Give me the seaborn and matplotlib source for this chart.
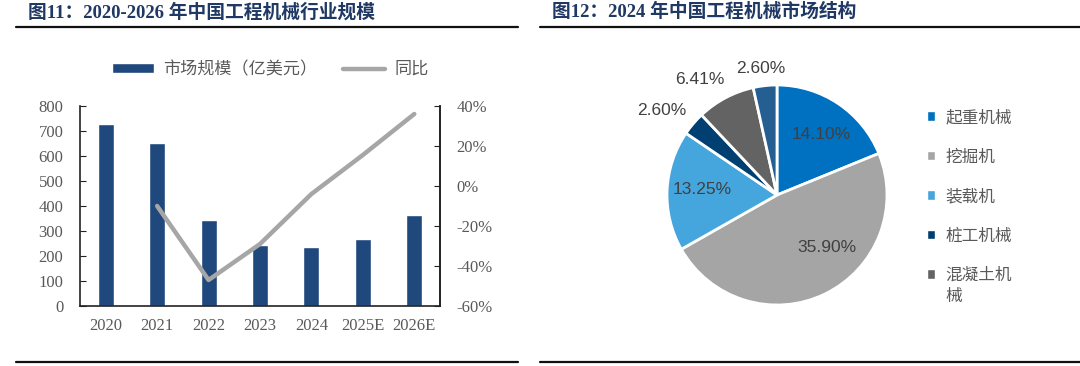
import numpy as np
import pandas as pd
import matplotlib
matplotlib.use("Agg")
import matplotlib.pyplot as plt
import seaborn as sns
from matplotlib.patches import Patch
from matplotlib.lines import Line2D

# data
years = ["2020", "2021", "2022", "2023", "2024", "2025E", "2026E"]
market_size = [727, 652, 345, 245, 235, 270, 365]   # 亿美元
yoy = [np.nan, -10.0, -47.0, -29.0, -4.0, 15.5, 36.0]  # %

pie_labels = ["起重机械", "挖掘机", "装载机", "桩工机械", "混凝土机械", ""]
pie_values = [14.10, 35.90, 13.25, 2.60, 6.41, 2.60]
pie_colors = ["#0070C0", "#A5A5A5", "#45A5DD", "#003F72", "#636363", "#255E91"]

sns.set_style("white")
plt.rcParams["font.family"] = ["Liberation Serif", "Noto Sans CJK SC"]
CJK = ["Noto Sans CJK SC", "DejaVu Sans"]
TITLE = ["Liberation Serif", "Noto Sans CJK SC"]
GREY = "#595959"
NAVY = "#1F3864"

fig = plt.figure(figsize=(10.8, 3.66), dpi=100)

# panel titles and rules
fig.text(28 / 1080, 1 - 12 / 366, "图11：2020-2026 年中国工程机械行业规模", family=TITLE,
         fontsize=13.5, fontweight="bold", color=NAVY, va="center", ha="left")
fig.text(552 / 1080, 1 - 12 / 366, "图12：2024 年中国工程机械市场结构", family=TITLE,
         fontsize=13.5, fontweight="bold", color=NAVY, va="center", ha="left")
for x0, x1 in [(16, 518), (540, 1080)]:
    for yy in (27, 362):
        fig.add_artist(Line2D([x0 / 1080, x1 / 1080], [1 - yy / 366] * 2,
                              color="#111111", lw=1.6))

# ---- bar + line chart
df = pd.DataFrame({"year": years, "size": market_size, "yoy": yoy})
ax = fig.add_axes([80 / 1080, 60 / 366, 360 / 1080, 200 / 366])
sns.barplot(data=df, x="year", y="size", color="#1F497D", width=0.31,
            saturation=1, ax=ax)
ax.set_ylim(0, 800)
ax.set_xlim(-0.5, len(years) - 0.5)
ax.set_yticks(range(0, 801, 100))
ax.set_xlabel("")
ax.set_ylabel("")
ax.tick_params(axis="y", direction="in", length=4, color="#222222", labelsize=12,
               labelcolor=GREY, pad=12)
ax.set_xticks(np.arange(-0.5, len(years)), minor=True)
ax.tick_params(axis="x", which="major", length=0, labelsize=12, labelcolor=GREY, pad=9)
ax.tick_params(axis="x", which="minor", direction="in", length=4, color="#222222")
ax.spines["top"].set_visible(False)
for s in ["left", "bottom", "right"]:
    ax.spines[s].set_color("#222222")
    ax.spines[s].set_linewidth(1.2)

ax2 = ax.twinx()
line_df = df.dropna(subset=["yoy"]).copy()
line_df["pos"] = [years.index(y) for y in line_df["year"]]
sns.lineplot(data=line_df, x="pos", y="yoy", color="#A6A6A6", lw=3.2, ax=ax2)
ax2.set_ylim(-60, 40)
ax2.set_yticks(range(-60, 41, 20))
ax2.set_yticklabels([f"{v}%" for v in range(-60, 41, 20)])
ax2.set_xlim(-0.5, len(years) - 0.5)
ax2.set_ylabel("")
ax2.set_xlabel("")
ax2.tick_params(axis="y", direction="in", length=4, color="#222222", labelsize=12,
                labelcolor=GREY, pad=12)
for s in ["top", "left", "bottom"]:
    ax2.spines[s].set_visible(False)
ax2.spines["right"].set_color("#222222")
ax2.spines["right"].set_linewidth(1.2)

handles = [Patch(facecolor="#1F497D"), Line2D([], [], color="#A6A6A6", lw=3.2)]
fig.legend(handles, ["市场规模（亿美元）", "同比"], loc="center",
           bbox_to_anchor=(270 / 1080, 1 - 69 / 366), ncol=2, frameon=False,
           prop={"family": CJK, "size": 12.3}, labelcolor=GREY,
           handlelength=2.5, handleheight=0.5, columnspacing=1.5, handletextpad=0.5)

# ---- pie chart
cx, cy, r = 777, 195, 110
pax = fig.add_axes([(cx - r) / 1080, (366 - cy - r) / 366, 2 * r / 1080, 2 * r / 366])
wedges, _ = pax.pie(pie_values, colors=pie_colors, startangle=90, counterclock=False,
                    wedgeprops={"edgecolor": "white", "linewidth": 2})
pax.set_xlim(-1, 1)
pax.set_ylim(-1, 1)
pax.set_aspect("equal")
# label radial distance and small angular shift per slice (Excel "best fit")
label_dist = [0.68, 0.66, 0.68, 1.3, 1.26, 1.16]
label_shift = [-2, 18, -2, 4, 6, 1]
for w, v, d, sh in zip(wedges, pie_values, label_dist, label_shift):
    ang = np.deg2rad((w.theta1 + w.theta2) / 2 + sh)
    pax.text(d * np.cos(ang), d * np.sin(ang), f"{v:.2f}%", ha="center", va="center",
             family=["Liberation Sans"], fontsize=12.5, color="#404040")

# legend: the long last label wraps onto a second line, marker stays on the first
shown = pie_labels[:5]
legend_text = [s if len(s) <= 4 else s[:4] for s in shown]
lh = [Patch(facecolor=c) for c in pie_colors[:5]]
leg = fig.legend(lh, legend_text, loc="upper left",
                 bbox_to_anchor=(912 / 1080, 1 - 94 / 366),
                 frameon=False, prop={"family": CJK, "size": 12}, labelcolor=GREY,
                 handlelength=0.5, handleheight=0.5, handletextpad=0.6, labelspacing=1.35)
fig.canvas.draw()
last = leg.get_texts()[-1]
bb = last.get_window_extent()
fig.text(bb.x0 / 1080, (bb.y0 - 21) / 366, shown[-1][4:], family=CJK, fontsize=12,
         color=GREY, ha="left", va="bottom")

fig.savefig("out.png", dpi=100, facecolor="white")
